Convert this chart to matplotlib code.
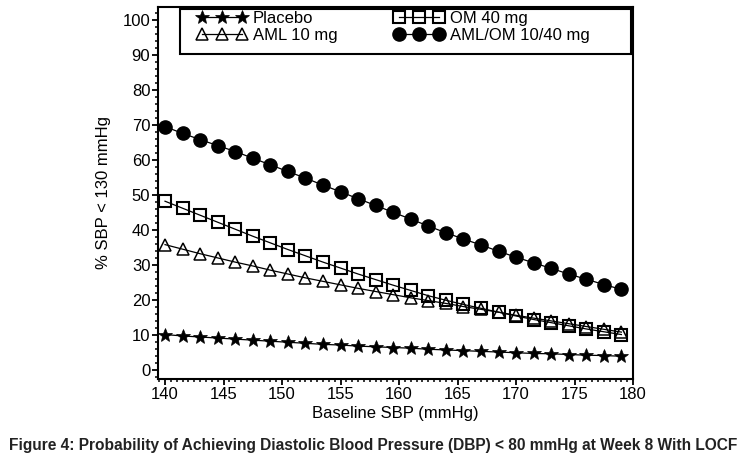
import matplotlib
matplotlib.use("Agg")
import matplotlib.pyplot as plt
from matplotlib.patches import Rectangle
from matplotlib.ticker import MultipleLocator

plt.rcParams["font.family"] = ["Liberation Sans", "DejaVu Sans"]

# values
baseline_sbp = [140, 141.5, 143, 144.5, 146, 147.5, 149, 150.5, 152, 153.5, 155, 156.5, 158,
                159.5, 161, 162.5, 164, 165.5, 167, 168.5, 170, 171.5, 173, 174.5, 176, 177.5, 179]
placebo = [10.1, 9.7, 9.4, 9.1, 8.8, 8.5, 8.2, 7.9, 7.6, 7.3, 7.1, 6.8, 6.6,
           6.4, 6.2, 5.9, 5.7, 5.5, 5.3, 5.1, 4.9, 4.7, 4.6, 4.4, 4.2, 4.1, 3.9]
aml_10 = [35.8, 34.5, 33.2, 32.0, 30.8, 29.7, 28.5, 27.4, 26.3, 25.3, 24.3, 23.3, 22.4,
          21.5, 20.6, 19.8, 19.0, 18.1, 17.3, 16.5, 15.6, 14.8, 14.0, 13.2, 12.4, 11.6, 10.8]
om_40 = [48.2, 46.2, 44.2, 42.2, 40.2, 38.2, 36.3, 34.4, 32.6, 30.8, 29.1, 27.4, 25.8,
         24.2, 22.7, 21.2, 19.9, 18.7, 17.6, 16.5, 15.4, 14.4, 13.5, 12.6, 11.7, 10.9, 10.1]
aml_om = [69.5, 67.6, 65.8, 64.1, 62.4, 60.5, 58.6, 56.7, 54.8, 52.8, 50.9, 48.9, 47.0,
          45.0, 43.1, 41.1, 39.2, 37.4, 35.7, 33.9, 32.2, 30.6, 29.0, 27.4, 25.9, 24.4, 23.0]

x_ticks = [140, 145, 150, 155, 160, 165, 170, 175, 180]
y_ticks = [0, 10, 20, 30, 40, 50, 60, 70, 80, 90, 100]

fig = plt.figure(figsize=(7.47, 4.66), dpi=100)
ax = fig.add_axes([0.2115, 0.1867, 0.636, 0.7983])

line_kw = dict(color="black", lw=0.9)
ax.plot(baseline_sbp, placebo, marker="*", ms=10.5, mfc="black", mec="black", mew=0.5,
        label="Placebo", **line_kw)
ax.plot(baseline_sbp, aml_10, marker="^", ms=9, mfc="none", mec="black", mew=1.1,
        label="AML 10 mg", **line_kw)
ax.plot(baseline_sbp, om_40, marker="s", ms=8.5, mfc="none", mec="black", mew=1.5,
        label="OM 40 mg", **line_kw)
ax.plot(baseline_sbp, aml_om, marker="o", ms=9.5, mfc="black", mec="black",
        label="AML/OM 10/40 mg", **line_kw)

ax.set_xlim(139.4, 180)
ax.set_ylim(-2.6, 103.7)
ax.set_xticks(x_ticks)
ax.set_yticks(y_ticks)
ax.xaxis.set_minor_locator(MultipleLocator(0.5))
ax.yaxis.set_minor_locator(MultipleLocator(2))
ax.tick_params(which="major", direction="out", length=4, width=1.3, labelsize=12, pad=1.5)
ax.tick_params(which="minor", direction="out", length=2, width=1.1)
for side in ax.spines.values():
    side.set_linewidth(1.5)

ax.set_xlabel("Baseline SBP (mmHg)", fontsize=12, labelpad=3)
ax.set_ylabel("% SBP < 130 mmHg", fontsize=12, labelpad=8)

leg = ax.legend(ncol=2, loc="upper left", bbox_to_anchor=(0.082, 0.99), frameon=False,
                fontsize=12, numpoints=3, handlelength=3.0, handletextpad=0.35,
                columnspacing=3.4, labelspacing=0.15, borderpad=0, borderaxespad=0)
ax.add_patch(Rectangle((0.0463, 0.8737), 0.9495, 0.1209, transform=ax.transAxes,
                       fill=False, edgecolor="black", lw=1.5, clip_on=False, zorder=5))

fig.text(0.5, 0.043, "Figure 4: Probability of Achieving Diastolic Blood Pressure (DBP) < 80 mmHg at Week 8 With LOCF",
         ha="center", va="center", fontsize=11.2, fontweight="bold", color="#222222")

fig.savefig("out.png", dpi=100)
